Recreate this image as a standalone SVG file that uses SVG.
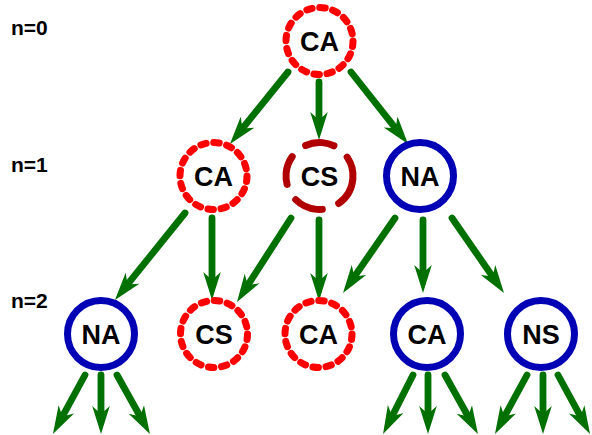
<svg xmlns="http://www.w3.org/2000/svg" width="592" height="435" viewBox="0 0 592 435">
<style>
.lbl{font-family:"Liberation Sans",Arial,sans-serif;font-weight:bold;font-size:27px;text-anchor:middle;fill:#000}
.lvl{font-family:"Liberation Sans",Arial,sans-serif;font-weight:bold;font-size:21px;fill:#000}
.ca{fill:#fff;stroke:#ff0000;stroke-width:7;stroke-dasharray:5.5 7.656;stroke-linecap:round}
.cs{fill:#fff;stroke:#b00000;stroke-width:7;stroke-dasharray:29.2 17.6;stroke-linecap:round}
.na{fill:#fff;stroke:#0000b4;stroke-width:7}
.arr{stroke:#007000;stroke-width:6.8;fill:none;stroke-linecap:round;marker-end:url(#ah)}
</style>
<defs>
<marker id="ah" markerUnits="userSpaceOnUse" markerWidth="40" markerHeight="30" viewBox="-10 -15 40 30" refX="0" refY="0" orient="auto" overflow="visible">
<path d="M20,0 L-8,-8.8 L0,0 L-8,8.8 Z" fill="#007000"/>
</marker>
</defs>
<rect width="592" height="435" fill="#fff"/>
<g id="levels">
<text class="lvl" x="11" y="35">n=0</text>
<text class="lvl" x="11" y="172">n=1</text>
<text class="lvl" x="11" y="308">n=2</text>
</g>
<g id="connectors">
<path class="arr" d="M288,72 L242.5,128.4"/>
<path class="arr" d="M319,82 L319,120"/>
<path class="arr" d="M351,72 L395.6,128.3"/>
<path class="arr" d="M185,213 L127.5,284.4"/>
<path class="arr" d="M212,218 L212,280"/>
<path class="arr" d="M291,218 L247.8,285.2"/>
<path class="arr" d="M319,220 L319,281"/>
<path class="arr" d="M395,218 L354.4,276.6"/>
<path class="arr" d="M423,220 L423,273"/>
<path class="arr" d="M452,218 L492.6,276.6"/>
<path class="arr" d="M85,375 L62.5,416.4"/>
<path class="arr" d="M101,375 L101,414"/>
<path class="arr" d="M117,375 L140.2,416.5"/>
<path class="arr" d="M413,375 L392.1,416.2"/>
<path class="arr" d="M428,375 L428,414"/>
<path class="arr" d="M445,375 L468.2,416.5"/>
<path class="arr" d="M527,375 L504.5,416.4"/>
<path class="arr" d="M543,375 L543,414"/>
<path class="arr" d="M558,375 L580.5,416.4"/>
</g>
<g id="n0-ca"><circle class="ca" cx="319.5" cy="41" r="33.5"/><text class="lbl" x="319.5" y="50.5">CA</text></g>
<g id="n1-ca"><circle class="ca" cx="213.5" cy="176" r="33.5"/><text class="lbl" x="213.5" y="185.5">CA</text></g>
<g id="n1-cs"><circle class="cs" cx="319.5" cy="176" r="33.5" transform="rotate(5 319.5 176)"/><text class="lbl" x="319.5" y="185.5">CS</text></g>
<g id="n1-na"><circle class="na" cx="420" cy="176" r="33.5"/><text class="lbl" x="420" y="185.5">NA</text></g>
<g id="n2-na"><circle class="na" cx="101" cy="334" r="33.5"/><text class="lbl" x="101" y="343.5">NA</text></g>
<g id="n2-cs"><circle class="ca" cx="214" cy="334" r="33.5"/><text class="lbl" x="214" y="343.5">CS</text></g>
<g id="n2-ca"><circle class="ca" cx="318.5" cy="334" r="33.5"/><text class="lbl" x="318.5" y="343.5">CA</text></g>
<g id="n2-ca2"><circle class="na" cx="427" cy="334" r="33.5"/><text class="lbl" x="427" y="343.5">CA</text></g>
<g id="n2-ns"><circle class="na" cx="541" cy="334" r="33.5"/><text class="lbl" x="541" y="343.5">NS</text></g>
</svg>
